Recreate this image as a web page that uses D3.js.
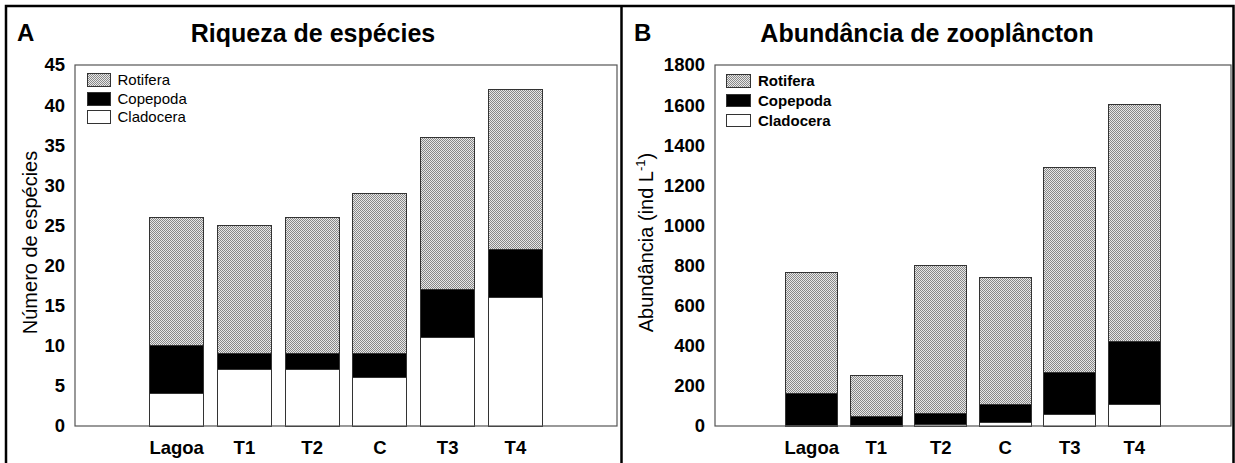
<!DOCTYPE html>
<html>
<head>
<meta charset="utf-8">
<script src="https://cdn.jsdelivr.net/npm/d3@7"></script>
<style>
  html, body { margin: 0; padding: 0; background: #fff; }
  svg { display: block; font-family: "Liberation Sans", Arial, sans-serif; }
</style>
</head>
<body>
<svg id="chart" width="1235" height="463"></svg>
<script>
// Sampling sites (x categories)
const categories = ["Lagoa", "T1", "T2", "C", "T3", "T4"];
const groups = ["Cladocera", "Copepoda", "Rotifera"];

// Panel A: species richness per group
const richCladocera = [4, 7, 7, 6, 11, 16];
const richCopepoda  = [6, 2, 2, 3, 6, 6];
const richRotifera  = [16, 16, 17, 20, 19, 20];
const richTicks = [0, 5, 10, 15, 20, 25, 30, 35, 40, 45];

// Panel B: abundance (ind L-1) per group
const abunCladocera = [3, 3, 8, 15, 58, 108];
const abunCopepoda  = [160, 43, 52, 93, 211, 311];
const abunRotifera  = [600, 204, 740, 632, 1021, 1186];
const abunTicks = [0, 200, 400, 600, 800, 1000, 1200, 1400, 1600, 1800];

const svg = d3.select("#chart");

// Fine halftone fill used for Rotifera
const defs = svg.append("defs");
const pat = defs.append("pattern")
  .attr("id", "dots").attr("patternUnits", "userSpaceOnUse")
  .attr("width", 2).attr("height", 2);
pat.append("rect").attr("width", 2).attr("height", 2).attr("fill", "#e8e8e8");
pat.append("rect").attr("x", 0).attr("y", 0).attr("width", 1).attr("height", 1).attr("fill", "#888");
pat.append("rect").attr("x", 1).attr("y", 1).attr("width", 1).attr("height", 1).attr("fill", "#888");

const fills = { Cladocera: "#ffffff", Copepoda: "#000000", Rotifera: "url(#dots)" };

// Outer frame and panel divider
const frame = svg.append("g").attr("stroke", "#000").attr("stroke-width", 2.5).attr("fill", "none");
frame.append("path").attr("d", "M6,470 V6 H1233.5 V470");
frame.append("line").attr("x1", 621.5).attr("x2", 621.5).attr("y1", 6).attr("y2", 470);

function panel(opts) {
  const { x0, x1, y0, y1, values, ticks, maxY, letter, letterX, title, titleX,
          ytitle, ytitleX, legendX, legendRowY, legendSw, legendBold } = opts;

  const table = categories.map((c, i) => {
    const row = { site: c };
    groups.forEach((g, k) => { row[g] = values[k][i]; });
    return row;
  });
  const stacked = d3.stack().keys(groups)(table);

  const x = d3.scaleBand().domain(categories).range([x0, x1])
    .paddingInner(0.2).paddingOuter(1.1);
  const y = d3.scaleLinear().domain([0, maxY]).range([y0, y1]);

  const g = svg.append("g");

  // Bars
  g.selectAll("g.layer").data(stacked).join("g")
    .attr("class", "layer")
    .attr("fill", d => fills[d.key])
    .selectAll("rect").data(d => d).join("rect")
      .attr("x", d => x(d.data.site))
      .attr("width", x.bandwidth())
      .attr("y", d => y(d[1]))
      .attr("height", d => y(d[0]) - y(d[1]))
      .attr("stroke", "#333").attr("stroke-width", 1)
      .attr("shape-rendering", "crispEdges");

  // Plot box
  g.append("rect")
    .attr("x", x0).attr("y", y1).attr("width", x1 - x0).attr("height", y0 - y1)
    .attr("fill", "none").attr("stroke", "#555").attr("stroke-width", 1.2);

  // Y axis
  const ya = g.append("g").attr("transform", `translate(${x0},0)`)
    .call(d3.axisLeft(y).tickValues(ticks).tickFormat(d3.format("d"))
      .tickSize(0).tickPadding(10));
  ya.select(".domain").remove();
  ya.selectAll("text").attr("font-size", 18.5).attr("font-weight", "bold")
    .attr("fill", "#000").attr("font-family", "Liberation Sans, Arial, sans-serif");

  // X axis
  const xa = g.append("g").attr("transform", `translate(0,${y0})`)
    .call(d3.axisBottom(x).tickSize(0).tickPadding(15));
  xa.select(".domain").remove();
  xa.selectAll("text").attr("font-size", 18.5).attr("font-weight", "bold")
    .attr("fill", "#000").attr("font-family", "Liberation Sans, Arial, sans-serif");

  // Panel letter and title
  g.append("text").attr("x", letterX).attr("y", 41)
    .attr("font-size", 24).attr("font-weight", "bold").text(letter);
  g.append("text").attr("x", titleX).attr("y", 42).attr("text-anchor", "middle")
    .attr("font-size", 25).attr("font-weight", "bold").text(title);

  // Y axis title
  const yt = g.append("text")
    .attr("transform", `translate(${ytitleX},${(y0 + y1) / 2 - 3}) rotate(-90)`)
    .attr("text-anchor", "middle").attr("font-size", 20);
  ytitle(yt);

  // Legend (top group first)
  const legendOrder = ["Rotifera", "Copepoda", "Cladocera"];
  const lg = g.append("g");
  legendOrder.forEach((key, i) => {
    const cy = legendRowY[i];
    lg.append("rect")
      .attr("x", legendX).attr("y", cy - legendSw[1] / 2)
      .attr("width", legendSw[0]).attr("height", legendSw[1])
      .attr("fill", fills[key]).attr("stroke", "#333").attr("stroke-width", 1)
      .attr("shape-rendering", "crispEdges");
    lg.append("text")
      .attr("x", legendX + legendSw[0] + 7.5).attr("y", cy).attr("dy", "0.35em")
      .attr("font-size", 15).attr("font-weight", legendBold ? "bold" : "normal")
      .text(key);
  });
}

panel({
  x0: 75, x1: 617, y0: 426, y1: 65,
  values: [richCladocera, richCopepoda, richRotifera],
  ticks: richTicks, maxY: 45,
  letter: "A", letterX: 17, title: "Riqueza de espécies", titleX: 313,
  ytitle: t => t.text("Número de espécies"), ytitleX: 37,
  legendX: 87, legendRowY: [80, 98.7, 117], legendSw: [23, 13], legendBold: false
});

panel({
  x0: 715, x1: 1231, y0: 426, y1: 65,
  values: [abunCladocera, abunCopepoda, abunRotifera],
  ticks: abunTicks, maxY: 1800,
  letter: "B", letterX: 634, title: "Abundância de zooplâncton", titleX: 927,
  ytitle: t => {
    t.append("tspan").text("Abundância (ind L");
    t.append("tspan").attr("font-size", 13).attr("dy", -8).text("-1");
    t.append("tspan").attr("dy", 8).text(")");
  },
  ytitleX: 653,
  legendX: 726, legendRowY: [81, 100.3, 120.5], legendSw: [24.5, 12.5], legendBold: true
});
</script>
</body>
</html>
